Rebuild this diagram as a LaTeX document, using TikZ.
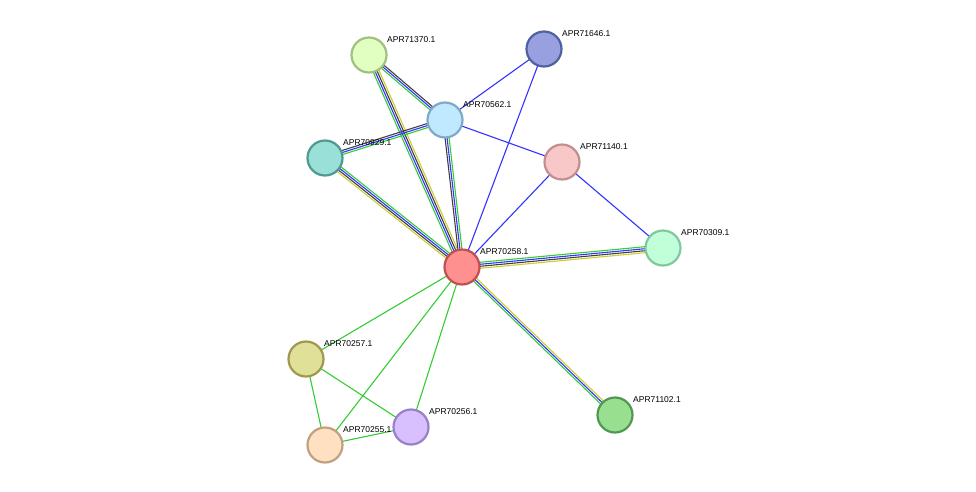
\documentclass[tikz,border=0pt]{standalone}
\usepackage{fontspec}
\setmainfont{Liberation Sans}
\usetikzlibrary{calc}
\definecolor{cg}{HTML}{33CC33}
\definecolor{cb}{HTML}{3333FF}
\definecolor{ck}{HTML}{404040}
\definecolor{cy}{HTML}{CCCC33}
\tikzset{
  nd/.style={circle,minimum size=35pt,inner sep=0pt,line width=2.2pt},
  lb/.style={anchor=south west,font=\fontsize{8.5}{10}\selectfont,inner sep=1pt},
  ed/.style={line width=1.1pt}
}
% \ml{a}{b}{n}{colors}
\newcommand\ml[4]{%
  \foreach \c [count=\i] in {#4}{%
    \pgfmathsetmacro\off{(\i-(#3+1)/2)*2}%
    \draw[ed,\c] ($(#1)!\off pt!90:(#2)$) -- ($(#2)!\off pt!-90:(#1)$);
  }}
\begin{document}
\begin{tikzpicture}[x=1pt,y=-1pt]
\useasboundingbox (0,0) rectangle (976,491);
\coordinate (n70258) at (462,267);
\coordinate (n71370) at (369,55);
\coordinate (n71646) at (544,49);
\coordinate (n70562) at (445,120);
\coordinate (n70929) at (325,158);
\coordinate (n71140) at (562,162);
\coordinate (n70309) at (663,248);
\coordinate (n70257) at (306,359);
\coordinate (n70256) at (411,427);
\coordinate (n70255) at (325,445);
\coordinate (n71102) at (615,415);
% edges
\ml{n71370}{n70562}{3}{cg,cb,ck}
\ml{n71370}{n70258}{4}{cg,cb,ck,cy}
\ml{n70929}{n70562}{3}{cg,cb,ck}
\ml{n70929}{n70258}{4}{cy,ck,cb,cg}
\ml{n70562}{n70258}{3}{ck,cb,cg}
\ml{n70258}{n70309}{4}{cy,ck,cb,cg}
\ml{n70258}{n71102}{3}{cg,cb,cy}
\draw[ed,cb] (n70562) -- (n71646);
\draw[ed,cb] (n70562) -- (n71140);
\draw[ed,cb] (n71646) -- (n70258);
\draw[ed,cb] (n71140) -- (n70258);
\draw[ed,cb] (n71140) -- (n70309);
\draw[ed,cg] (n70258) -- (n70257);
\draw[ed,cg] (n70258) -- (n70255);
\draw[ed,cg] (n70258) -- (n70256);
\draw[ed,cg] (n70257) -- (n70256);
\draw[ed,cg] (n70257) -- (n70255);
\draw[ed,cg] (n70255) -- (n70256);
% nodes
\newcommand\nn[5]{%
  \node[nd,fill={[HTML]#2},draw={[HTML]#3}] (#1) at (n#1) {};
  \node[lb] (l#1) at ($(n#1)+(17,-11)$) {#4};}
\def\mk#1#2#3#4{\definecolor{f#1}{HTML}{#2}\definecolor{d#1}{HTML}{#3}%
  \node[nd,fill=f#1,draw=d#1] (#1) at (n#1) {};
  \node[lb] (l#1) at ($(n#1)+(17,-11)$) {#4};}
\mk{71370}{E0FFC0}{A0C080}{APR71370.1}
\mk{71646}{98A0E0}{5060A0}{APR71646.1}
\mk{70562}{C0E8FF}{80A8C8}{APR70562.1}
\mk{70929}{98E0D8}{509890}{APR70929.1}
\mk{71140}{F8C8C8}{C09090}{APR71140.1}
\mk{70309}{C0FFD8}{80C8A0}{APR70309.1}
\mk{70258}{FF9090}{C05050}{APR70258.1}
\mk{70257}{E0E098}{A09850}{APR70257.1}
\mk{70255}{FFE0C0}{C0A080}{APR70255.1}
\mk{70256}{D8C0FF}{9880C8}{APR70256.1}
\mk{71102}{98E090}{509850}{APR71102.1}
\end{tikzpicture}
\end{document}
